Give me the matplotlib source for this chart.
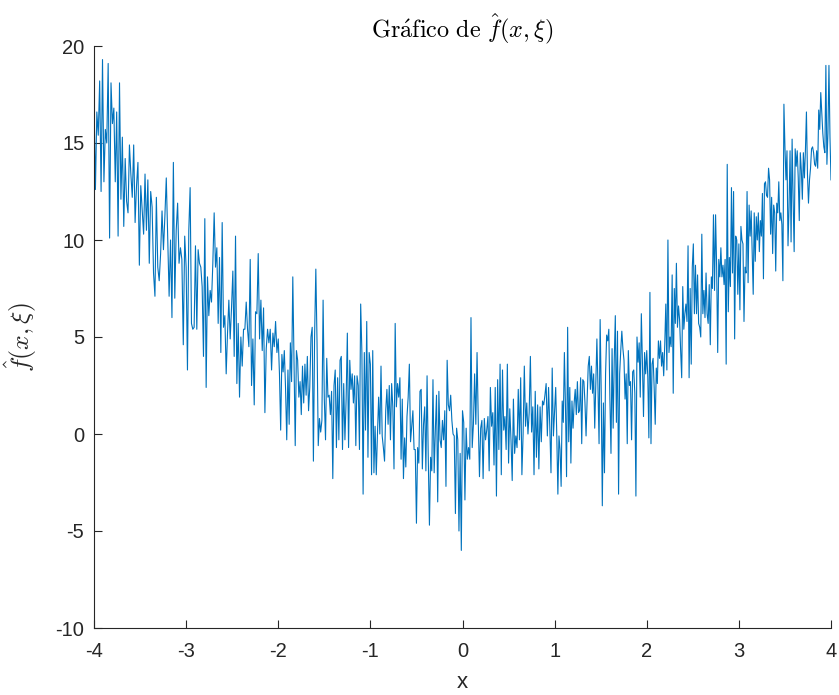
import numpy as np
import matplotlib
matplotlib.use("Agg")
import matplotlib.pyplot as plt

# Noisy samples of f(x, xi), grouped by unit interval of x
seg_m4 = [17.1, 12.6, 16.6, 15.4, 18.2, 12.5, 19.3, 13.0, 15.7, 15.0, 19.1, 10.1, 18.1, 16.0,
          16.8, 13.0, 16.6, 10.2, 18.1, 12.1, 15.3, 10.7, 14.2, 12.0, 11.4, 14.9, 13.4, 12.2,
          14.9, 10.9, 12.8, 14.0, 8.7, 12.8, 11.5, 10.3, 13.4, 10.5, 13.1, 8.8, 12.5, 11.7,
          8.3, 7.1, 12.2, 8.6, 7.9, 9.3, 11.5, 9.5, 11.2, 13.2, 10.1, 7.1, 10.0, 6.0, 14.0,
          7.0, 10.5, 11.9, 8.8, 9.6, 9.0, 4.6, 10.2]
seg_m3 = [8.6, 3.3, 10.5, 12.7, 5.7, 5.4, 5.5, 9.7, 5.4, 9.5, 8.8, 8.6, 7.6, 4.0, 11.1,
          2.4, 8.1, 6.1, 7.4, 6.8, 8.8, 11.4, 8.6, 9.6, 5.7, 9.1, 4.2, 10.9, 5.5, 6.1, 3.1,
          5.2, 6.9, 4.9, 6.5, 8.4, 4.0, 10.2, 2.6, 5.7, 1.9, 5.0, 3.5, 5.4, 5.4, 6.8, 5.4,
          4.5, 9.0, 2.5, 4.9, 1.5, 6.3, 6.2, 9.3, 4.9, 6.9, 4.3, 6.5, 1.1, 4.4, 5.4, 4.7,
          5.4, 3.3, 5.2, 4.5, 5.8, 4.2]
seg_m2 = [4.9, 3.1, 0.2, 4.1, 3.2, 4.3, 2.4, -0.3, 3.3, 0.5, 4.7, 2.7, 8.1, 3.6, -0.6, 4.3,
          3.8, 1.9, 2.7, 1.0, 3.5, 1.6, 3.6, 2.0, 4.0, 1.2, 2.4, 5.0, 5.5, -1.4, 5.1, 8.5,
          4.7, -0.6, 0.8, 0.1, 0.7, 6.9, 1.8, -0.3, 3.9, 1.9, 2.0, 1.0, 2.2, -2.3, 2.5, 3.3,
          -0.7, 2.9, -0.3, 3.8, 4.0, -0.8, 2.6, -0.3, 1.8, 5.2, -0.7, 3.8, 2.3, 3.1, 1.6,
          3.0, -0.6, 3.0, 2.5, -0.8, 6.7, 4.2, -3.1, 4.2, 0.2, 5.8, -1.2, 4.2]
seg_m1 = [3.6, -2.1, 4.3, -2.0, 0.4, -2.1, 0.0, 1.9, 0.0, 3.5, -0.1, -0.7, -1.4, 1.2, 2.3,
          0.5, 2.5, -0.3, 2.6, 1.4, -1.8, 5.7, 1.4, 2.6, 1.9, 2.9, -1.3, 1.8, -2.3, -0.2,
          -1.7, 0.9, 1.9, 3.6, -0.4, 0.4, 1.2, -0.8, -0.8, -4.6, -0.7, -1.5, 2.2, 2.3, -1.8,
          0.5, 1.4, -1.9, 3.0, -1.2, -4.7, -1.2, -1.9, 2.8, -2.0, 0.2, 2.0, -3.5, 2.2, -0.3,
          -0.7, 0.7, -0.3, 1.2, -2.7, 3.8, 1.5, 1.2, 2.0, 0.7, 0.0, -0.1, -4.1, 0.3, -0.3,
          -5.0, -1.0, -6.0]
seg_0 = [1.2, 0.6, -3.4, 0.3, -1.3, -0.7, -1.3, 6.0, -0.7, 0.5, 3.1, 0.5, 4.2, 0.7, -2.2,
         0.3, 0.7, -2.3, 0.8, -0.3, 0.2, 0.9, -1.9, 2.4, 0.4, 1.1, -1.6, 2.4, -3.2, 2.8,
         -0.8, 3.6, -2.1, 3.3, 0.2, 0.9, -0.8, 3.6, -1.5, 1.3, -0.3, -2.4, 1.8, -1.0, -0.1,
         -0.7, 2.3, -0.3, 2.9, -2.1, 0.0, 3.5, 0.4, 1.6, 0.0, 1.1, 4.0, 0.1, 1.4, -2.1, 2.2,
         -1.2, 1.5, -1.8, 1.4, -0.4, 1.7, 1.5, 2.0, 2.6, -0.1, 2.4, 0.4, -2.0, 3.4, -0.1]
seg_1 = [1.2, 2.4, -0.1, -3.1, -0.1, -0.8, -2.7, 1.7, 0.6, 4.2, 1.4, -2.2, 5.5, -0.4, 2.4,
         -1.5, 1.7, 0.3, 1.6, 2.3, 1.0, 2.7, 1.1, 1.2, 2.9, -0.5, 2.8, 2.7, 1.6, -0.1, 1.8,
         3.5, 4.0, 2.3, 3.5, 2.1, 3.1, 0.3, 2.6, 4.9, 2.4, -0.5, 5.9, 2.1, -3.7, 1.6, -2.0,
         3.1, 5.1, 4.8, 5.4, 1.8, -1.0, 4.4, 0.3, 3.8, 6.1, 0.6, 5.3, -3.1, 3.1, 4.3, 5.3,
         4.4, 3.8, 1.8, 3.1, -0.5, 4.3, 2.5, 2.7, -0.3, 3.2, 3.3, 2.1, -3.2, 5.0, 3.7, 4.7,
         1.9, 6.2, 3.7, 0.9, 4.2, 3.1]
seg_2 = [4.3, 2.9, -0.2, 7.3, -0.5, 3.6, 3.9, 2.4, 0.5, 3.4, 2.6, 4.8, 3.9, 4.8, 3.5, 4.2,
         3.0, 4.6, 6.7, 3.3, 10.0, 4.2, 5.0, 4.5, 8.2, 2.1, 7.5, 5.7, 8.8, 5.5, 6.6, 5.9,
         4.3, 2.9, 7.6, 5.4, 6.2, 6.7, 5.8, 9.7, 2.9, 7.5, 3.6, 8.6, 9.8, 6.2, 8.7, 6.2,
         8.2, 5.7, 5.5, 5.0, 10.3, 6.2, 7.4, 6.0, 8.3, 6.2, 5.7, 7.7, 4.6, 8.1, 7.5, 11.3,
         7.4, 11.3, 8.6, 4.2, 9.0, 8.1, 9.6, 8.1, 8.7, 7.7, 9.0, 3.6, 13.9, 6.3, 9.1, 7.6,
         12.7, 8.3, 12.5, 4.9, 10.2, 10.0, 7.2]
seg_3 = [9.8, 6.4, 10.7, 10.0, 9.8, 5.8, 8.6, 8.3, 12.5, 7.8, 11.8, 10.2, 11.5, 9.4, 7.2,
         11.4, 8.9, 11.2, 10.0, 11.4, 9.4, 11.0, 10.2, 12.4, 8.0, 12.9, 13.0, 12.3, 12.2,
         13.7, 13.1, 10.3, 12.2, 9.3, 11.8, 11.4, 8.4, 11.9, 11.4, 13.0, 11.0, 11.4, 10.8,
         7.9, 17.0, 14.8, 13.1, 14.6, 9.7, 11.7, 14.6, 9.9, 15.2, 12.1, 9.4, 14.7, 13.8,
         14.6, 13.2, 11.0, 14.5, 13.6, 12.1, 14.5, 13.2, 14.6, 16.6, 13.4, 11.9, 13.1, 13.7,
         14.7, 14.8, 14.5, 13.9, 13.8, 14.6, 13.7, 16.7, 15.7, 17.6, 16.5, 15.5, 14.8, 14.5,
         19.0, 13.9, 15.5, 19.0, 15.3, 13.1]

segments = [(-4, seg_m4), (-3, seg_m3), (-2, seg_m2), (-1, seg_m1),
            (0, seg_0), (1, seg_1), (2, seg_2), (3, seg_3)]

xs, ys = [], []
for i, (start, vals) in enumerate(segments):
    last = i == len(segments) - 1
    xs.append(np.linspace(start, start + 1, len(vals), endpoint=last))
    ys.append(np.asarray(vals))
x = np.concatenate(xs)
y = np.concatenate(ys)

x_ticks = [-4, -3, -2, -1, 0, 1, 2, 3, 4]
y_ticks = [-10, -5, 0, 5, 10, 15, 20]

plt.rcParams["mathtext.fontset"] = "cm"
plt.rcParams["axes.unicode_minus"] = False
plt.rcParams["font.family"] = ["Liberation Sans", "DejaVu Sans"]

fig = plt.figure(figsize=(8.39, 6.95), dpi=100)
ax = fig.add_axes([94 / 839, 1 - 628 / 695, (831 - 94) / 839, (628 - 46) / 695])

ax.plot(x, y, color="#0072BD", linewidth=0.8)

ax.set_xlim(-4, 4)
ax.set_ylim(-10, 20)
ax.set_xticks(x_ticks)
ax.set_yticks(y_ticks)
ax.set_xticklabels([str(t) for t in x_ticks])
ax.set_yticklabels([str(t) for t in y_ticks])

for side in ("top", "right"):
    ax.spines[side].set_visible(False)
for side in ("left", "bottom"):
    ax.spines[side].set_color("#262626")
    ax.spines[side].set_linewidth(0.8)
ax.tick_params(direction="in", length=6, width=0.8, colors="#262626",
               labelsize=14.5, labelcolor="#262626")
ax.tick_params(axis="y", pad=7)
ax.tick_params(axis="x", pad=10)

ax.set_title(r"$\mathrm{Gr\acute{a}fico\ de}\ \hat{f}(x,\xi)$", fontsize=17.5, pad=6,
             color="black")
ax.set_xlabel("x", fontsize=16, color="#262626", labelpad=8)
ax.set_ylabel(r"$\hat{f}(x,\xi)$", fontsize=18.5, color="#262626", labelpad=12)

fig.savefig("out.png", dpi=100)
